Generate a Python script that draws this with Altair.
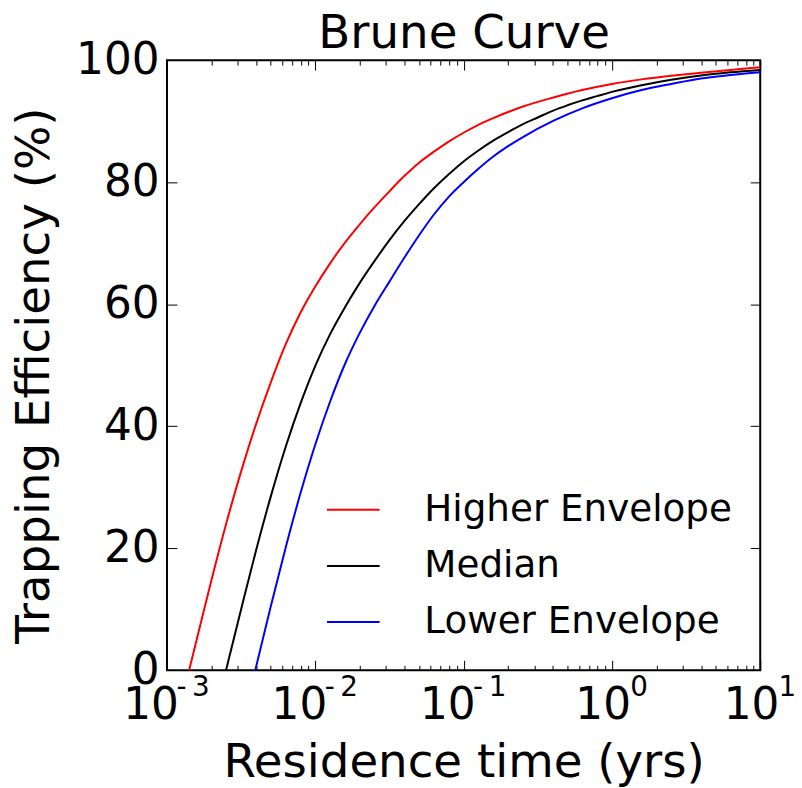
import json
import pandas as pd
import altair as alt

# ---- data ----
chart_title = "Brune Curve"
series_names = ["Higher Envelope", "Median", "Lower Envelope"]
series_colors = ["#ff0000", "#000000", "#0000ff"]

high_t = [0.00141, 0.001585, 0.001995, 0.002512, 0.003162, 0.003981, 0.005012, 0.00631, 0.007943,
          0.01, 0.01259, 0.01585, 0.01995, 0.02512, 0.03162, 0.03981, 0.05012, 0.0631, 0.07943,
          0.1, 0.1259, 0.1585, 0.1995, 0.2512, 0.3981, 0.631, 1.0, 1.585, 2.512, 3.981, 6.31, 10.0]
high_v = [0.0, 5.0, 14.8, 24.1, 32.6, 40.3, 47.2, 53.4, 58.6,
          62.9, 66.7, 70.1, 73.1, 75.9, 78.5, 81.0, 83.2, 85.0, 86.65,
          88.1, 89.4, 90.5, 91.5, 92.4, 93.85, 95.1, 96.1, 96.85, 97.45, 97.95, 98.4, 98.85]

med_t = [0.0025, 0.003162, 0.003981, 0.005012, 0.00631, 0.007943, 0.01, 0.01259, 0.01585,
         0.01995, 0.02512, 0.03162, 0.03981, 0.05012, 0.0631, 0.07943, 0.1, 0.1259, 0.1585,
         0.1995, 0.2512, 0.3162, 0.3981, 0.5012, 0.631, 0.7943, 1.0, 1.585, 2.512, 3.981, 6.31, 10.0]
med_v = [0.0, 10.0, 19.6, 28.5, 36.6, 43.7, 49.9, 55.1, 59.5,
         63.5, 67.1, 70.5, 73.6, 76.4, 79.0, 81.3, 83.4, 85.2, 86.8,
         88.2, 89.5, 90.6, 91.7, 92.6, 93.4, 94.1, 94.8, 95.9, 96.8, 97.5, 98.0, 98.4]

low_t = [0.003936, 0.005012, 0.00631, 0.007943, 0.01, 0.01259, 0.01585, 0.01995, 0.02512,
         0.03162, 0.03981, 0.05012, 0.0631, 0.07943, 0.1, 0.1259, 0.1585, 0.1995, 0.2512,
         0.3981, 0.631, 1.0, 1.585, 2.512, 3.981, 6.31, 10.0]
low_v = [0.0, 10.5, 20.1, 29.0, 37.0, 44.05, 50.2, 55.3, 59.75,
         63.7, 67.6, 71.3, 74.7, 77.6, 80.0, 82.2, 84.2, 85.9, 87.4,
         90.0, 92.1, 93.75, 95.1, 96.1, 97.0, 97.55, 98.0]

x_major = [0.001, 0.01, 0.1, 1, 10]
x_base_label = "10"
x_exponents = ["-\u20093", "-\u20092", "-\u20091", "0", "1"]
x_minor_mult = [2, 3, 4, 5, 6, 7, 8, 9]
y_ticks = [0, 20, 40, 60, 80, 100]
y_inner_ticks = [20, 40, 60, 80]

# ---- build table ----
rows = []
for name, ts, vs in zip(series_names, [high_t, med_t, low_t], [high_v, med_v, low_v]):
    for t, v in zip(ts, vs):
        rows.append({"series": name, "t": t, "v": v})
df = pd.DataFrame(rows)

x_minor = [m * d for d in x_major[:-1] for m in x_minor_mult]
x_neg = [v for v in x_major if v < 1]
x_pos = [v for v in x_major if v >= 1]

W, H = 597, 614
FONT = "DejaVu Sans"

x_scale = alt.Scale(type="log", domain=[x_major[0], x_major[-1]], nice=False)
y_scale = alt.Scale(domain=[y_ticks[0], y_ticks[-1]], nice=False)

exp_expr = (f"{json.dumps(x_exponents, ensure_ascii=False)}"
            f"[indexof({json.dumps(x_major)}, datum.value)]")
base_expr = json.dumps(x_base_label)


def label_axis(values, expr, size, align, offset, padding, **kw):
    return alt.Axis(
        orient="bottom", values=values, labelExpr=expr, ticks=False, tickSize=0,
        domain=False, grid=False, labelFontSize=size, labelFont=FONT, labelColor="black",
        labelBaseline="alphabetic", labelAlign=align, labelOffset=offset,
        labelPadding=padding, labelFlush=False, labelOverlap=False, labelBound=False, **kw
    )


x_main_axis = label_axis(
    x_neg, base_expr, 44, "center", -16.5, 48.7,
    title="Residence time (yrs)", titleFontSize=47, titleFont=FONT, titleFontWeight="normal",
    titleColor="black", titleY=107, titleBaseline="alphabetic",
)
x_main_axis_pos = label_axis(x_pos, base_expr, 44, "center", -9.3, 48.7, title=None)
x_sup_neg = label_axis(x_neg, exp_expr, 28, "left", 9, 25.7, title=None)
x_sup_pos = label_axis(x_pos, exp_expr, 28, "left", 18, 25.7, title=None)

# chart title, carried by a top axis so that its position is exact
title_axis = alt.Axis(
    orient="top", ticks=False, labels=False, domain=False, grid=False,
    title=chart_title, titleFontSize=47, titleFont=FONT, titleFontWeight="normal",
    titleColor="black", titleY=-13, titleBaseline="alphabetic",
)

y_main_axis = alt.Axis(
    values=y_ticks, ticks=False, tickSize=0, domain=False, grid=False,
    labelFontSize=44, labelFont=FONT, labelColor="black", labelPadding=8,
    labelFlush=False, labelOverlap=False,
    title="Trapping Efficiency (%)", titleFontSize=47, titleFont=FONT, titleFontWeight="normal",
    titleColor="black", titleX=-119, titleY=H / 2 + 10, titleBaseline="alphabetic",
)

color = alt.Color(
    "series:N",
    scale=alt.Scale(domain=series_names, range=series_colors),
    legend=alt.Legend(
        orient="none", legendX=160, legendY=425, title=None,
        labelFontSize=37.5, labelFont=FONT, labelColor="black", labelLimit=600,
        symbolType="stroke", symbolSize=2809, symbolStrokeWidth=2,
        labelOffset=44, rowPadding=10.5, padding=0,
    ),
)

main = alt.Chart(df).mark_line(strokeWidth=2, interpolate="monotone").encode(
    x=alt.X("t:Q", scale=x_scale, axis=x_main_axis),
    y=alt.Y("v:Q", scale=y_scale, axis=y_main_axis),
    color=color,
)


def tick_axis(orient, offset, values, size):
    return alt.Axis(
        orient=orient, offset=offset, values=values, labels=False, ticks=True,
        tickSize=size, tickColor="black", tickWidth=1, domain=False, grid=False, title=None,
    )


def ghost_layer(x_axis, y_axis):
    return alt.Chart(df).mark_line(opacity=0).encode(
        x=alt.X("t:Q", scale=x_scale, axis=x_axis),
        y=alt.Y("v:Q", scale=y_scale, axis=y_axis),
        detail="series:N",
    )


layers = [
    main,
    # inward ticks on bottom & left edges
    ghost_layer(tick_axis("top", -H, x_major, 10), tick_axis("right", -W, y_inner_ticks, 10)),
    # inward ticks on top & right edges
    ghost_layer(tick_axis("bottom", -H, x_major, 10), tick_axis("left", -W, y_inner_ticks, 10)),
    # minor ticks
    ghost_layer(tick_axis("top", -H, x_minor, 5), None),
    ghost_layer(tick_axis("bottom", -H, x_minor, 5), None),
    # remaining tick labels (10 and exponents)
    ghost_layer(x_main_axis_pos, None),
    ghost_layer(x_sup_neg, None),
    ghost_layer(x_sup_pos, None),
    # title
    ghost_layer(title_axis, None),
]

chart = alt.layer(*layers).resolve_axis(
    x="independent", y="independent"
).properties(
    width=W, height=H,
    padding={"left": 160, "top": 50, "right": 34, "bottom": 118},
    autosize=alt.AutoSizeParams(type="none"),
).configure(font=FONT).configure_view(stroke="black", strokeWidth=2)

chart.save("out.html", embed_options={"renderer": "svg", "actions": False})
